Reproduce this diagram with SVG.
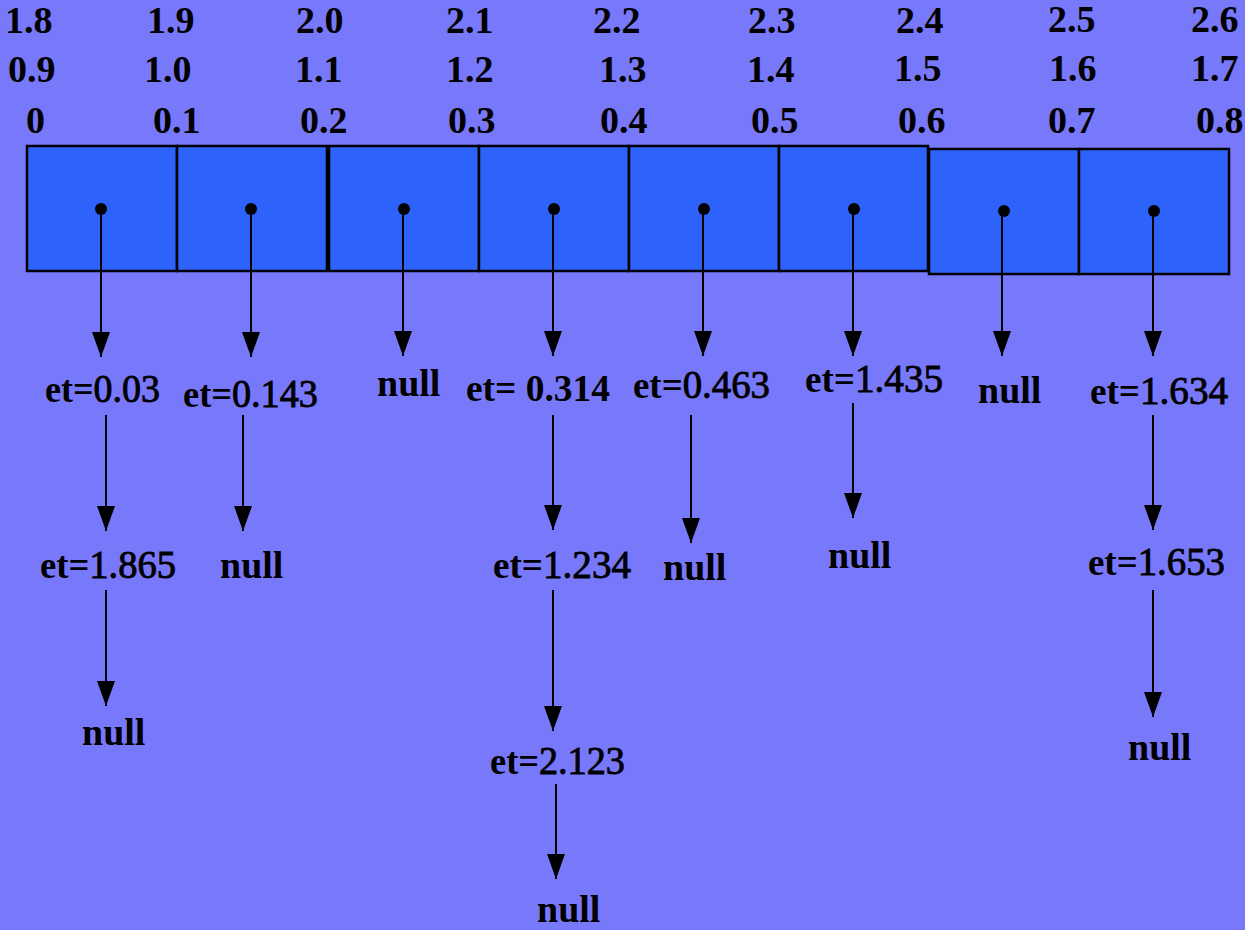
<svg xmlns="http://www.w3.org/2000/svg" width="1245" height="930" viewBox="0 0 1245 930">
  <style>
    text { font-family: "Liberation Serif", "Times New Roman", serif; fill: #000; }
    .hdr { font-size: 38px; font-weight: bold; }
    .lbl { font-size: 38px; font-weight: bold; }
    .num { font-weight: normal; font-size: 40px; stroke: #000; stroke-width: 0.9; }
    .cell { fill: #2D63FB; stroke: #000; stroke-width: 2.5; }
    .link { stroke: #000; stroke-width: 2; fill: none; marker-end: url(#arrow); }
    .dot { fill: #000; }
  </style>
  <defs>
    <marker id="arrow" markerUnits="userSpaceOnUse" markerWidth="27" markerHeight="20" refX="25" refY="9" orient="auto">
      <path d="M0,0 L25,9 L0,18 Z" fill="#000"/>
    </marker>
  </defs>

  <!-- background -->
  <rect x="0" y="0" width="1245" height="930" fill="#7878FA"/>

  <!-- scale labels above the buckets -->
  <g id="scale-row1" class="hdr">
    <text x="5" y="33">1.8</text>
    <text x="147" y="33">1.9</text>
    <text x="296" y="33">2.0</text>
    <text x="446" y="33">2.1</text>
    <text x="593" y="33">2.2</text>
    <text x="748" y="33">2.3</text>
    <text x="896" y="33">2.4</text>
    <text x="1048" y="32">2.5</text>
    <text x="1191" y="32">2.6</text>
  </g>
  <g id="scale-row2" class="hdr">
    <text x="8" y="82">0.9</text>
    <text x="144" y="82">1.0</text>
    <text x="295" y="82">1.1</text>
    <text x="446" y="82">1.2</text>
    <text x="599" y="82">1.3</text>
    <text x="747" y="82">1.4</text>
    <text x="894" y="81">1.5</text>
    <text x="1049" y="81">1.6</text>
    <text x="1191" y="81">1.7</text>
  </g>
  <g id="scale-row3" class="hdr">
    <text x="26" y="133">0</text>
    <text x="153" y="133">0.1</text>
    <text x="300" y="133">0.2</text>
    <text x="448" y="133">0.3</text>
    <text x="600" y="133">0.4</text>
    <text x="751" y="133">0.5</text>
    <text x="898" y="133">0.6</text>
    <text x="1048" y="133">0.7</text>
    <text x="1196" y="133">0.8</text>
  </g>

  <!-- bucket array -->
  <g id="bucket-0"><rect class="cell" x="27" y="146" width="150" height="125"/><circle class="dot" cx="101" cy="209" r="6"/></g>
  <g id="bucket-1"><rect class="cell" x="177" y="146" width="150" height="125"/><circle class="dot" cx="251" cy="209" r="6"/></g>
  <g id="bucket-2"><rect class="cell" x="329" y="146" width="150" height="125"/><circle class="dot" cx="404" cy="209" r="6"/></g>
  <g id="bucket-3"><rect class="cell" x="479" y="146" width="150" height="125"/><circle class="dot" cx="554" cy="209" r="6"/></g>
  <g id="bucket-4"><rect class="cell" x="629" y="146" width="150" height="125"/><circle class="dot" cx="704" cy="209" r="6"/></g>
  <g id="bucket-5"><rect class="cell" x="779" y="146" width="149" height="125"/><circle class="dot" cx="854" cy="209" r="6"/></g>
  <g id="bucket-6"><rect class="cell" x="929" y="149" width="150" height="125"/><circle class="dot" cx="1004" cy="211" r="6"/></g>
  <g id="bucket-7"><rect class="cell" x="1079" y="149" width="150" height="125"/><circle class="dot" cx="1154" cy="211" r="6"/></g>

  <!-- list nodes -->
  <g id="n0a"><text class="lbl" x="45" y="402" textLength="115" lengthAdjust="spacingAndGlyphs">et=<tspan class="num">0.03</tspan></text></g>
  <g id="n0b"><text class="lbl" x="40" y="578" textLength="136" lengthAdjust="spacingAndGlyphs">et=<tspan class="num">1.865</tspan></text></g>
  <g id="n0c"><text class="lbl" x="82" y="745">null</text></g>

  <g id="n1a"><text class="lbl" x="183" y="407" textLength="135" lengthAdjust="spacingAndGlyphs">et=<tspan class="num">0.143</tspan></text></g>
  <g id="n1b"><text class="lbl" x="220" y="578">null</text></g>

  <g id="n2a"><text class="lbl" x="377" y="396">null</text></g>

  <g id="n3a"><text class="lbl" x="466" y="401" textLength="144" lengthAdjust="spacingAndGlyphs">et= 0.314</text></g>
  <g id="n3b"><text class="lbl" x="493" y="578" textLength="138" lengthAdjust="spacingAndGlyphs">et=<tspan class="num">1.234</tspan></text></g>
  <g id="n3c"><text class="lbl" x="490" y="774" textLength="135" lengthAdjust="spacingAndGlyphs">et=<tspan class="num">2.123</tspan></text></g>
  <g id="n3d"><text class="lbl" x="537" y="922">null</text></g>

  <g id="n4a"><text class="lbl" x="633" y="398" textLength="137" lengthAdjust="spacingAndGlyphs">et=<tspan class="num">0.463</tspan></text></g>
  <g id="n4b"><text class="lbl" x="663" y="580">null</text></g>

  <g id="n5a"><text class="lbl" x="805" y="392" textLength="138" lengthAdjust="spacingAndGlyphs">et=<tspan class="num">1.435</tspan></text></g>
  <g id="n5b"><text class="lbl" x="828" y="568">null</text></g>

  <g id="n6a"><text class="lbl" x="978" y="403">null</text></g>

  <g id="n7a"><text class="lbl" x="1090" y="404" textLength="138" lengthAdjust="spacingAndGlyphs">et=<tspan class="num">1.634</tspan></text></g>
  <g id="n7b"><text class="lbl" x="1088" y="575" textLength="137" lengthAdjust="spacingAndGlyphs">et=<tspan class="num">1.653</tspan></text></g>
  <g id="n7c"><text class="lbl" x="1128" y="760">null</text></g>

  <!-- links -->
  <g id="connectors">
    <line class="link" x1="101" y1="209" x2="101" y2="357"/>
    <line class="link" x1="251" y1="209" x2="251" y2="357"/>
    <line class="link" x1="403" y1="209" x2="403" y2="356"/>
    <line class="link" x1="553" y1="209" x2="553" y2="356"/>
    <line class="link" x1="703" y1="209" x2="703" y2="356"/>
    <line class="link" x1="853" y1="209" x2="853" y2="356"/>
    <line class="link" x1="1002" y1="211" x2="1002" y2="356"/>
    <line class="link" x1="1153" y1="211" x2="1153" y2="356"/>

    <line class="link" x1="106" y1="415" x2="106" y2="531"/>
    <line class="link" x1="243" y1="415" x2="243" y2="531"/>
    <line class="link" x1="553" y1="415" x2="553" y2="530"/>
    <line class="link" x1="691" y1="415" x2="691" y2="543"/>
    <line class="link" x1="853" y1="403" x2="853" y2="518"/>
    <line class="link" x1="1153" y1="415" x2="1153" y2="530"/>

    <line class="link" x1="106" y1="590" x2="106" y2="706"/>
    <line class="link" x1="553" y1="590" x2="553" y2="731"/>
    <line class="link" x1="1153" y1="590" x2="1153" y2="717"/>

    <line class="link" x1="556" y1="784" x2="556" y2="879"/>
  </g>
</svg>
